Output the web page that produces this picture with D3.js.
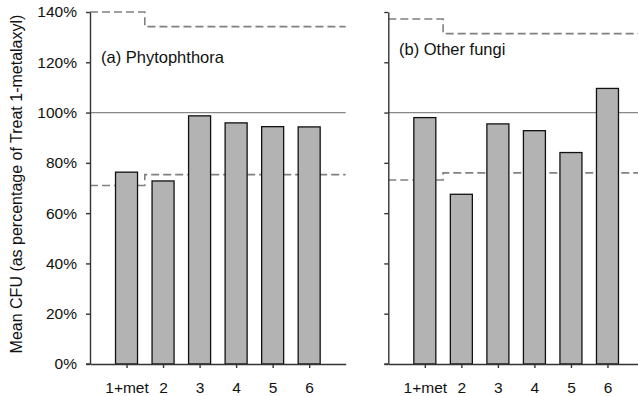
<!DOCTYPE html>
<html><head><meta charset="utf-8">
<script src="https://cdn.jsdelivr.net/npm/d3@7/dist/d3.min.js"></script>
<style>body{margin:0;background:#fff}svg{display:block}text{font-family:"Liberation Sans",Arial,sans-serif}</style>
</head><body>
<svg id="c" width="638" height="396"></svg>
<script>
const categories = ["1+met","2","3","4","5","6"];
const phytophthora = [76.3, 72.8, 98.7, 95.9, 94.4, 94.3];
const otherFungi = [98.0, 67.5, 95.5, 92.8, 84.1, 109.6];
const phytoUpper = [140, 134.2];
const phytoLower = [71.0, 75.3];
const fungiUpper = [137.2, 131.4];
const fungiLower = [73.2, 76.0];
const yTicks = [0, 20, 40, 60, 80, 100, 120, 140];
const panelTitles = ["(a) Phytophthora", "(b) Other fungi"];

const svg = d3.select("#c");
const y = d3.scaleLinear().domain([0, 140]).range([364, 12]);
const tickFont = 15.5;

const panels = [
  {x0: 90, x1: 345.7, vals: phytophthora, up: phytoUpper, lo: phytoLower, title: panelTitles[0], labels: true, tx: 101, ty: 63},
  {x0: 388.3, x1: 644, vals: otherFungi, up: fungiUpper, lo: fungiLower, title: panelTitles[1], labels: false, tx: 399, ty: 55}
];

panels.forEach(p => {
  const x = d3.scaleLinear().domain([0, 7]).range([p.x0, p.x1]);
  const g = svg.append("g");
  g.append("line").attr("x1", x(0)).attr("x2", x(7)).attr("y1", y(100)).attr("y2", y(100))
    .attr("stroke", "#888").attr("stroke-width", 1.2);
  const line = d3.line().x(d => x(d[0])).y(d => y(d[1]));
  [p.up, p.lo].forEach(v => {
    const pts = [[0, v[0]], [1.5, v[0]], [1.5, v[1]], [7, v[1]]];
    g.append("path").attr("d", line(pts)).attr("fill", "none")
      .attr("stroke", "#808080").attr("stroke-width", 1.6).attr("stroke-dasharray", "8,4");
  });
  const bw = 22;
  g.selectAll("rect.bar").data(p.vals).join("rect")
    .attr("x", (d, i) => x(i + 1) - bw / 2).attr("width", bw)
    .attr("y", d => y(d)).attr("height", d => y(0) - y(d))
    .attr("fill", "#b3b3b3").attr("stroke", "#111").attr("stroke-width", 1.3);
  const ya = d3.axisLeft(y).tickValues(yTicks).tickSize(4).tickPadding(9).tickSizeOuter(0)
    .tickFormat(p.labels ? (d => d + "%") : (() => ""));
  const yg = g.append("g").attr("transform", `translate(${p.x0},0)`).call(ya);
  const xa = d3.axisBottom(x).tickValues([1,2,3,4,5,6]).tickSize(4).tickPadding(14).tickSizeOuter(0)
    .tickFormat(d => categories[d - 1]);
  const xg = g.append("g").attr("transform", `translate(0,${y(0)})`).call(xa);
  [yg, xg].forEach(a => {
    a.select(".domain").attr("stroke", "#333").attr("stroke-width", 1.4);
    a.selectAll(".tick line").attr("stroke", "#333").attr("stroke-width", 1.4);
    a.selectAll("text").attr("font-size", tickFont).attr("fill", "#111").style("font-family", '"Liberation Sans",Arial,sans-serif');
  });
  g.append("line").attr("x1", p.x0 - 4).attr("x2", p.x0).attr("y1", y(0)).attr("y2", y(0)).attr("stroke", "#333").attr("stroke-width", 1.4);
  g.append("text").attr("x", p.tx).attr("y", p.ty).attr("font-size", 16.5).attr("fill", "#111").text(p.title);
});

svg.append("text").attr("transform", "translate(22,184) rotate(-90)").attr("text-anchor", "middle")
  .attr("font-size", 16).attr("fill", "#111").text("Mean CFU (as percentage of Treat 1-metalaxyl)");
</script>
</body></html>
